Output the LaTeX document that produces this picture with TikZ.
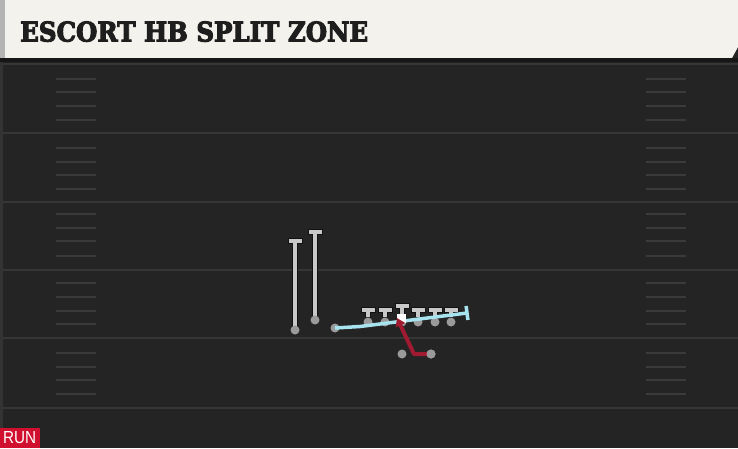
\documentclass[tikz,border=0pt]{standalone}
\usepackage{fontspec}
\newfontfamily\titlefont{DejaVu Serif}[FakeBold=4]
\newfontfamily\runfont{Liberation Sans}
\usetikzlibrary{arrows.meta}
\definecolor{field}{HTML}{242424}
\definecolor{yardc}{HTML}{363636}
\definecolor{hashc}{HTML}{3A3A3A}
\definecolor{cream}{HTML}{F4F2EC}
\definecolor{headgrey}{HTML}{B4B4B4}
\definecolor{bandc}{HTML}{161616}
\definecolor{edgec}{HTML}{333333}
\definecolor{routegrey}{HTML}{C8C8C8}
\definecolor{outl}{HTML}{111111}
\definecolor{dotgrey}{HTML}{9A9A9A}
\definecolor{bluec}{HTML}{A8E4F0}
\definecolor{redc}{HTML}{A01A32}
\definecolor{runred}{HTML}{D0102E}
\definecolor{titlec}{HTML}{1E1E1E}
\tikzset{
  yardline/.style={draw=yardc, line width=2pt},
  hashline/.style={draw=hashc, line width=2pt},
  routeo/.style={draw=outl, line width=6.5pt},
  routei/.style={draw=routegrey, line width=4.5pt},
  capo/.style={draw=outl, line width=6pt},
  capi/.style={draw=routegrey, line width=4pt},
  pdot/.style={circle, fill=dotgrey, minimum size=9pt, inner sep=0pt},
  endpt/.style={inner sep=0pt, minimum size=0pt},
  blueroute/.style={draw=bluec, line width=3.5pt, line join=round},
  redroute/.style={draw=redc, line width=4pt, line join=round},
  ballsq/.style={fill=white, minimum size=9pt, inner sep=0pt},
}
\begin{document}
\begin{tikzpicture}[x=1pt,y=-1pt]
\useasboundingbox (0,0) rectangle (738,448);
\fill[field] (0,0) rectangle (738,448);
\fill[edgec] (0,58) rectangle (3,448);
% yard lines
\foreach \y in {64,133,202,270,338,408}
  \draw[yardline] (3,\y) -- (738,\y);
% hash marks
\foreach \y in {79,92,106,120,148,162,175,189,214,228,241,256,283,297,311,324,353,367,380,394} {
  \draw[hashline] (56,\y) -- (96,\y);
  \draw[hashline] (646,\y) -- (686,\y);
}
% header
\fill[cream] (0,0) -- (738,0) -- (738,47) -- (732,58) -- (0,58) -- cycle;
\fill[headgrey] (0,0) rectangle (5,58);
\fill[bandc] (0,58) rectangle (738,62);
\node[anchor=south west, inner sep=0pt, text=titlec] (title) at (20,42)
  {\resizebox{348pt}{20pt}{\titlefont\bfseries ESCORT HB SPLIT ZONE}};
% receivers
\node[endpt] (w1t) at (295,241) {};
\node[endpt] (w1) at (295,330) {};
\node[endpt] (w2t) at (315,232) {};
\node[endpt] (w2) at (315,320) {};
\foreach \a/\b in {w1/w1t, w2/w2t} {
  \draw[routeo] (\a) -- (\b);
  \draw[capo] ([xshift=-7.5pt]\b.center) -- ([xshift=7.5pt]\b.center);
  \draw[routei] (\a) -- (\b);
  \draw[capi] ([xshift=-6.5pt]\b.center) -- ([xshift=6.5pt]\b.center);
}
\node[pdot] at (w1) {};
\node[pdot] at (w2) {};
% offensive line
\foreach \n/\x/\t in {l1/368/310, l2/385/310, l3/402/306, l4/418/310, l5/435/310, l6/451/310} {
  \node[pdot] (\n) at (\x,322) {};
  \node[endpt] (\n t) at (\x,\t) {};
  \draw[routeo] (\n) -- (\n t);
  \draw[capo] ([xshift=-7.5pt]\n t.center) -- ([xshift=7.5pt]\n t.center);
  \draw[routei] (\n) -- (\n t);
  \draw[capi] ([xshift=-6.5pt]\n t.center) -- ([xshift=6.5pt]\n t.center);
}
% blue route
\node[pdot] (te) at (335,328) {};
\coordinate (tem) at (360,326.5);
\coordinate (tee) at (467,313);
\draw[blueroute] (te.center) -- (tem) -- (tee);
\draw[bluec, line width=3.5pt] ([shift={(-0.9,-7)}]tee) -- ([shift={(0.9,7)}]tee);
% ball
\node[ballsq] (ball) at (401,318) {};
% backs
\node[pdot] (qb) at (402,354) {};
\node[pdot] (hb) at (431,354) {};
\coordinate (hbk) at (414,354);
\coordinate (hbe) at (397,318);
\draw[redroute, -{Triangle[length=8pt,width=10pt]}] (hb.center) -- (hbk) -- (hbe);
\node[pdot] at (hb) {};
% run label
\fill[runred] (0,428) rectangle (40,448);
\node[anchor=south west, inner sep=0pt, text=white] (run) at (3,444)
  {\resizebox{33pt}{12pt}{\runfont RUN}};
\end{tikzpicture}
\end{document}
